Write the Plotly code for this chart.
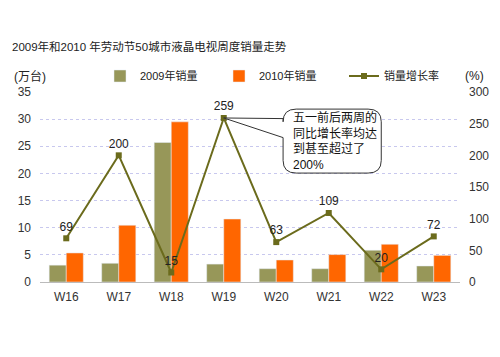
import plotly.graph_objects as go

weeks = ["W16", "W17", "W18", "W19", "W20", "W21", "W22", "W23"]
sales_2009 = [3.1, 3.45, 25.7, 3.3, 2.45, 2.45, 5.85, 2.95]
sales_2010 = [5.35, 10.45, 29.5, 11.6, 4.05, 5.05, 6.95, 4.9]
growth = [69, 200, 15, 259, 63, 109, 20, 72]
left_ticks = [0, 5, 10, 15, 20, 25, 30, 35]
right_ticks = [0, 50, 100, 150, 200, 250, 300]

FONT = "Liberation Sans, Noto Sans CJK SC, sans-serif"
C09 = "#979759"
C10 = "#FF6600"
CL = "#6B6B1C"
TXT = "#333333"

# the page body has an 8px margin; lay the figure out in page pixels minus 8
OFF = 8
W, H = 500 - 2 * OFF, 357 - 2 * OFF
ML, MR, MT, MB = 32, 32, 84, 67
PW, PH = W - ML - MR, H - MT - MB


def px_x(x):  # page x -> plot-area paper x
    return (x - OFF - ML) / PW


def px_y(y):  # page y -> plot-area paper y
    return (H - MB - (y - OFF)) / PH


fig = go.Figure()
fig.add_trace(go.Bar(x=weeks, y=sales_2009, name="2009年销量", marker_color=C09,
                     yaxis="y", legend="legend"))
fig.add_trace(go.Bar(x=weeks, y=sales_2010, name="2010年销量", marker_color=C10,
                     yaxis="y", legend="legend2"))
fig.add_trace(go.Scatter(x=weeks, y=growth, name="销量增长率", yaxis="y2", legend="legend3",
                         mode="lines+markers+text", text=[str(g) for g in growth],
                         textposition="top center", textfont=dict(size=12, color="#222"),
                         line=dict(color=CL, width=2),
                         marker=dict(symbol="square", size=6, color=CL)))
# invisible trace so that the grid-only axis y3 renders
fig.add_trace(go.Scatter(x=weeks, y=[None] * len(weeks), yaxis="y3", showlegend=False,
                         hoverinfo="skip"))

# callout bubble (x in category index units, y on the right axis)
L, R, T, B = 4.13, 6.0, 273, 172
rx, ry = 0.25, 20
path = (f"M 3 259 L {L} 258 L {L} {T-ry} Q {L} {T} {L+rx} {T} L {R-rx} {T} "
        f"Q {R} {T} {R} {T-ry} L {R} {B+ry} Q {R} {B} {R-rx} {B} L {L+rx} {B} "
        f"Q {L} {B} {L} {B+ry} L {L} 228 Z")
fig.add_shape(type="path", path=path, xref="x", yref="y2",
              line=dict(color="#333333", width=1), fillcolor="white", layer="above")
fig.add_annotation(x=L + 0.15, y=(T + B) / 2, xref="x", yref="y2",
                   text="五一前后两周的<br>同比增长率均达<br>到甚至超过了<br>200%",
                   showarrow=False, xanchor="left", yanchor="middle", align="left",
                   font=dict(size=12, color="#111", family=FONT))

leg_common = dict(orientation="h", xanchor="left", yanchor="middle",
                  xref="container", yref="container", y=1 - (76 - OFF) / H,
                  font=dict(size=11, color="#222"), bgcolor="rgba(0,0,0,0)",
                  itemwidth=30)

fig.update_layout(
    width=W, height=H,
    margin=dict(l=ML, r=MR, t=MT, b=MB, autoexpand=False),
    paper_bgcolor="white", plot_bgcolor="white",
    font=dict(family=FONT, size=11, color=TXT),
    title=dict(text="2009年和2010 年劳动节50城市液晶电视周度销量走势",
               xref="container", yref="container",
               x=(12 - OFF) / W, xanchor="left", y=1 - (47 - OFF) / H, yanchor="middle",
               font=dict(size=11.5, color="#222")),
    barmode="group", bargap=0.35, bargroupgap=0,
    showlegend=True,
    legend=dict(leg_common, x=(100 - OFF) / W),
    legend2=dict(leg_common, x=(219 - OFF) / W),
    legend3=dict(leg_common, x=(344 - OFF) / W),
    xaxis=dict(showline=True, linecolor="#BBBBBB", linewidth=1, ticks="",
               ticklabelstandoff=4,
               tickfont=dict(size=12, color=TXT), showgrid=False, automargin=False),
    yaxis=dict(range=[0, 35], tickvals=left_ticks, showgrid=False, zeroline=False,
               showline=False, ticks="", ticklabelstandoff=8, automargin=False,
               tickfont=dict(size=12, color=TXT)),
    yaxis2=dict(range=[0, 300], tickvals=right_ticks, overlaying="y", side="right",
                showgrid=False, zeroline=False, showline=False, ticks="", automargin=False,
                ticklabelstandoff=8, tickfont=dict(size=12, color=TXT)),
    yaxis3=dict(range=[0, 35], tickvals=left_ticks[1:-1], overlaying="y", showgrid=True,
                gridcolor="#C8C8EE", griddash="dot", gridwidth=1, showticklabels=False,
                zeroline=False, automargin=False),
)
fig.add_annotation(x=px_x(12), y=px_y(76), xref="paper", yref="paper", text="(万台)",
                   showarrow=False, xanchor="left", yanchor="middle",
                   font=dict(size=12, color="#222"))
fig.add_annotation(x=px_x(463), y=px_y(76), xref="paper", yref="paper", text="(%)",
                   showarrow=False, xanchor="left", yanchor="middle",
                   font=dict(size=12, color="#222"))
fig.write_html("out.html")
